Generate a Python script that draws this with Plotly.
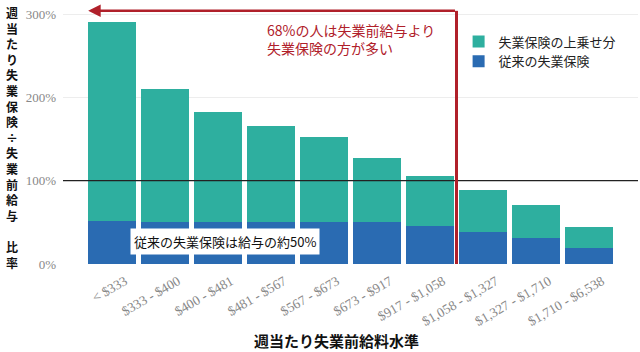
import plotly.graph_objects as go

categories = ["< $333", "$333 - $400", "$400 - $481", "$481 - $567", "$567 - $673",
              "$673 - $917", "$917 - $1,058", "$1,058 - $1,327", "$1,327 - $1,710", "$1,710 - $6,538"]
total_ratio = [2.91, 2.10, 1.82, 1.66, 1.52, 1.27, 1.06, 0.89, 0.71, 0.45]
base_ratio = [0.52, 0.51, 0.51, 0.51, 0.50, 0.50, 0.46, 0.39, 0.31, 0.19]
extra_ratio = [round(t - b, 2) for t, b in zip(total_ratio, base_ratio)]

TEAL = "#2eaf9f"
BLUE = "#2a6bb2"
RED = "#b0202a"
JP = "Noto Sans CJK JP"

x_idx = list(range(len(categories)))

fig = go.Figure()
fig.add_trace(go.Bar(x=x_idx, y=base_ratio, name="従来の失業保険", marker_color=BLUE,
                     marker_line_width=0))
fig.add_trace(go.Bar(x=x_idx, y=extra_ratio, name="失業保険の上乗せ分", marker_color=TEAL,
                     marker_line_width=0))

fig.update_layout(
    width=640, height=352,
    margin=dict(l=63, r=2, t=10, b=88),
    barmode="stack", bargap=0.11,
    plot_bgcolor="white", paper_bgcolor="white",
    showlegend=True,
    legend=dict(x=0.688, y=0.935, xanchor="left", yanchor="top",
                font=dict(family=JP, size=13, color="#222"),
                traceorder="reversed", itemwidth=30, tracegroupgap=2,
                bgcolor="rgba(0,0,0,0)"),
    xaxis=dict(tickmode="array", tickvals=x_idx, ticktext=categories,
               range=[-0.925, 9.925], tickangle=-30,
               tickfont=dict(family="Liberation Serif", size=13.5, color="#888"),
               ticklabelshift=13, ticklabelstandoff=6,
               showgrid=False, zeroline=False, showline=False, ticks=""),
    yaxis=dict(range=[0, 3.05], tickvals=[0, 1, 2, 3], tickformat=".0%",
               tickfont=dict(family="Liberation Serif", size=13, color="#888"),
               ticklabelstandoff=6,
               showgrid=True, gridcolor="#ededed", gridwidth=1,
               zeroline=False, showline=False, ticks=""),
)

# reference line at 100%
fig.add_shape(type="line", xref="paper", x0=0, x1=1, yref="y", y0=1, y1=1,
              line=dict(color="#222", width=1.3))

# red bracket: vertical line + arrow to left
fig.add_shape(type="line", xref="x", x0=6.5, x1=6.5, yref="y", y0=0, y1=3.04,
              line=dict(color=RED, width=3))
fig.add_annotation(x=-0.45, y=3.04, ax=6.5, ay=3.04, xref="x", yref="y",
                   axref="x", ayref="y", text="", showarrow=True,
                   arrowhead=2, arrowsize=1, arrowwidth=2.5, arrowcolor=RED)

fig.add_annotation(x=2.88, y=2.95, xref="x", yref="y", xanchor="left", yanchor="top",
                   text="68%の人は失業前給与より<br>失業保険の方が多い", showarrow=False,
                   align="left", font=dict(family=JP, size=14, color=RED))

fig.add_annotation(x=2.13, y=0.27, xref="x", yref="y",
                   text="従来の失業保険は給与の約50%", showarrow=False,
                   bgcolor="white", borderpad=3,
                   font=dict(family=JP, size=13, color="#111"))

# axis titles
fig.add_annotation(x=0.475, y=-0.30, xref="paper", yref="paper", yanchor="middle",
                   text="<b>週当たり失業前給料水準</b>", showarrow=False,
                   font=dict(family=JP, size=15, color="#111"))

ytitle = "週当たり失業保険÷失業前給与　比率"
fig.add_annotation(x=-0.088, y=0.5, xref="paper", yref="paper", xanchor="center",
                   yanchor="middle", text="<b>" + "<br>".join(list(ytitle)) + "</b>",
                   showarrow=False, align="center",
                   font=dict(family=JP, size=12, color="#111"))

fig.write_html("out.html")
